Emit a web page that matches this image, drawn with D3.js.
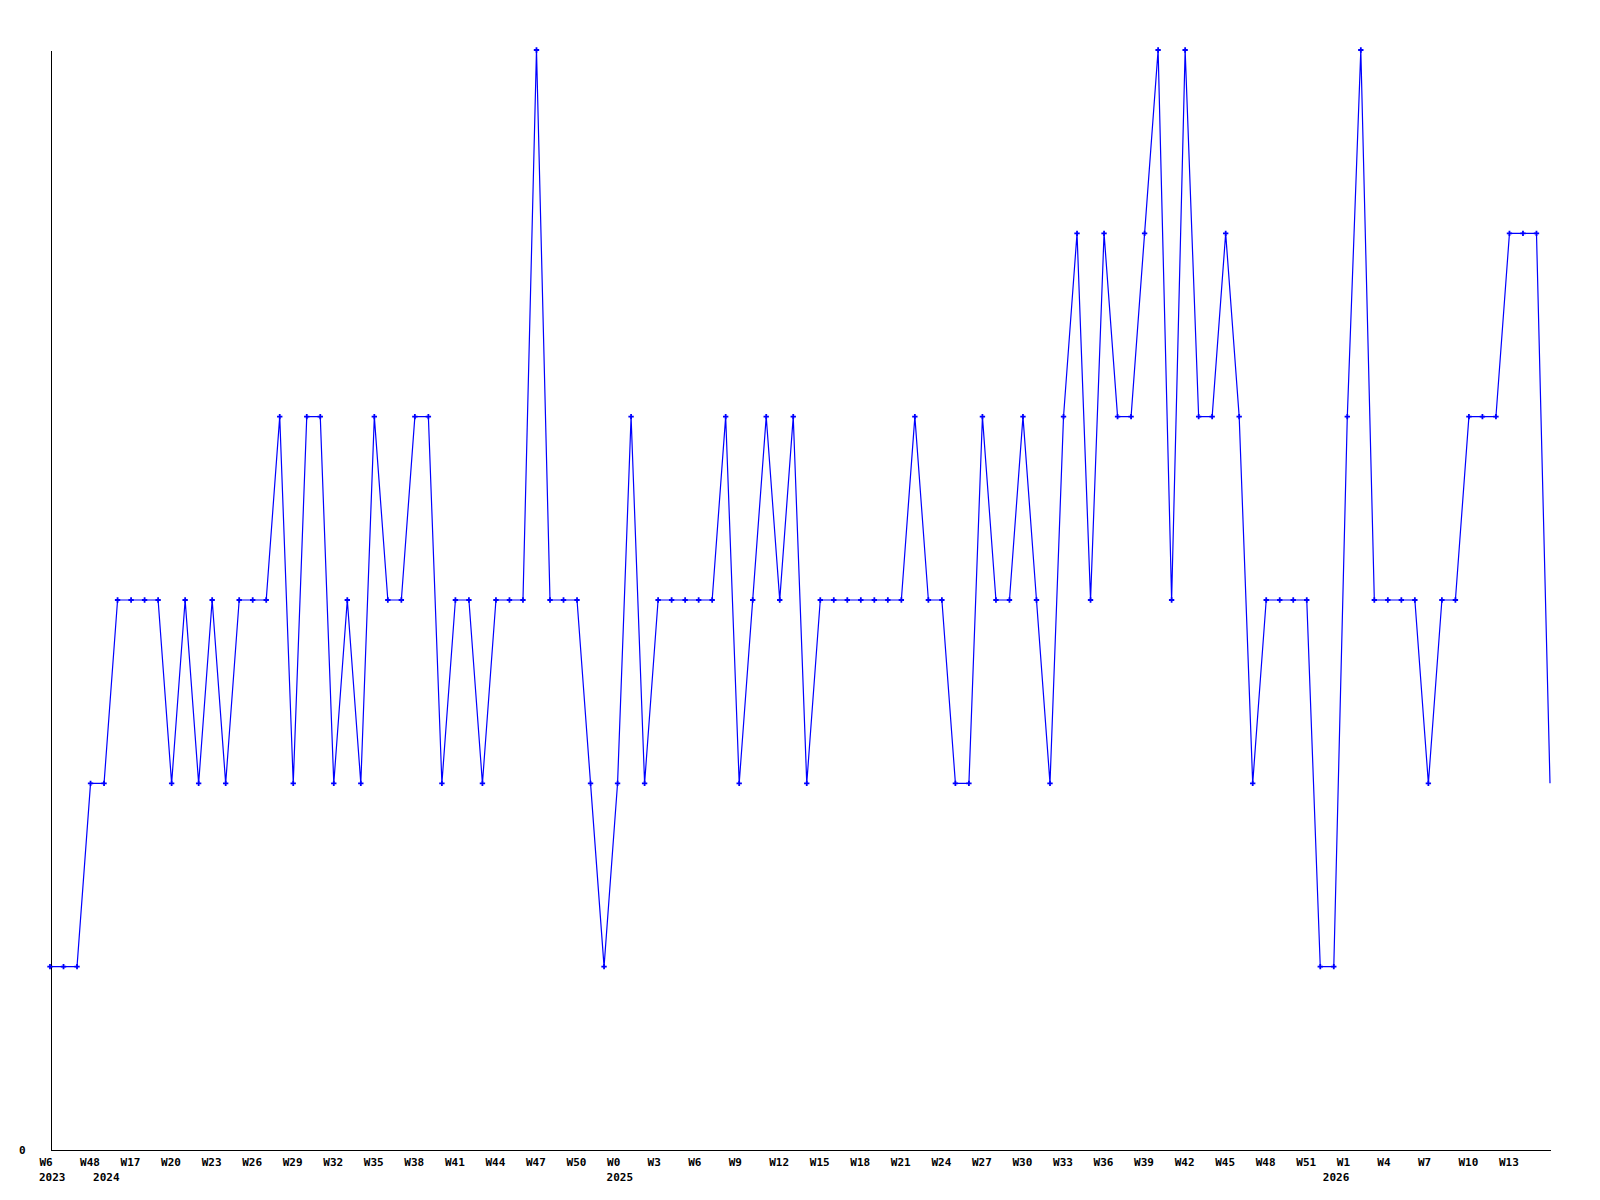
<!DOCTYPE html>
<html>
<head>
<meta charset="utf-8">
<script src="https://cdn.jsdelivr.net/npm/d3@7"></script>
<style>
  body { margin: 0; background: #fff; }
  svg text { font-family: "DejaVu Sans Mono", monospace; font-weight: bold; font-size: 11px; fill: #000; }
</style>
</head>
<body>
<div id="chart"></div>
<script>
// weekly values, one per point
var values = [
    1, 1, 1, 2, 2, 3, 3, 3, 3, 2,
    3, 2, 3, 2, 3, 3, 3, 4, 2, 4,
    4, 2, 3, 2, 4, 3, 3, 4, 4, 2,
    3, 3, 2, 3, 3, 3, 6, 3, 3, 3,
    2, 1, 2, 4, 2, 3, 3, 3, 3, 3,
    4, 2, 3, 4, 3, 4, 2, 3, 3, 3,
    3, 3, 3, 3, 4, 3, 3, 2, 2, 4,
    3, 3, 4, 3, 2, 4, 5, 3, 5, 4,
    4, 5, 6, 3, 6, 4, 4, 5, 4, 2,
    3, 3, 3, 3, 1, 1, 4, 6, 3, 3,
    3, 3, 2, 3, 3, 4, 4, 4, 5, 5,
    5, 2
];

// labels for every third point
var tickLabels = ["W6", "W48", "W17", "W20", "W23", "W26", "W29", "W32", "W35", "W38",
    "W41", "W44", "W47", "W50", "W0", "W3", "W6", "W9", "W12", "W15",
    "W18", "W21", "W24", "W27", "W30", "W33", "W36", "W39", "W42", "W45",
    "W48", "W51", "W1", "W4", "W7", "W10", "W13"];
var tickStep = 3;

// year labels and the point where each one sits
var yearLabels = ["2023", "2024", "2025", "2026"];
var yearIndex = [0, 4, 42, 95];

var yTicks = [0];

var margin = {top: 50, right: 50, bottom: 50, left: 50},
    width = 1600 - margin.left - margin.right,
    height = 1200 - margin.top - margin.bottom;

var x = d3.scaleLinear().domain([0, values.length - 1]).range([0, width]);
var y = d3.scaleLinear().domain([0, 6]).range([height, 0]);

var svg = d3.select("#chart").append("svg")
    .attr("width", 1600)
    .attr("height", 1200)
    .append("g")
    .attr("transform", "translate(" + margin.left + "," + margin.top + ")");

// x axis
var xAxis = svg.append("g")
    .attr("transform", "translate(0," + (height - 0.5) + ")")
    .call(d3.axisBottom(x)
        .tickValues(d3.range(tickLabels.length).map(function (i) { return i * tickStep; }))
        .tickFormat(function (d) { return tickLabels[d / tickStep]; })
        .tickSize(0)
        .tickSizeOuter(0));
xAxis.select(".domain").attr("stroke", "#000").attr("shape-rendering", "crispEdges");
xAxis.selectAll("text")
    .attr("text-anchor", "start")
    .attr("x", -11)
    .attr("y", 16.5)
    .attr("dy", null);

// year labels under the week labels
svg.selectAll(".year")
    .data(yearLabels)
    .enter().append("text")
    .attr("class", "year")
    .attr("x", function (d, i) { return x(yearIndex[i]) - 11; })
    .attr("y", height + 31)
    .text(function (d) { return d; });

// y axis
var yAxis = svg.append("g")
    .attr("transform", "translate(0.5,0)")
    .call(d3.axisLeft(y).tickValues(yTicks).tickFormat(d3.format("d"))
        .tickSize(0).tickSizeOuter(0).tickPadding(25));
yAxis.select(".domain").attr("stroke", "#000").attr("shape-rendering", "crispEdges");
yAxis.selectAll("text").attr("dy", "0.35em");

// the line
var valueline = d3.line()
    .x(function (d, i) { return x(i); })
    .y(function (d) { return y(d); });

svg.append("path")
    .datum(values)
    .attr("fill", "none")
    .attr("stroke", "#0000ff")
    .attr("stroke-width", 1.2)
    .attr("d", valueline);

// point markers (last point has none)
svg.selectAll(".dot")
    .data(values.slice(0, values.length - 1))
    .enter().append("path")
    .attr("class", "dot")
    .attr("fill", "#0000ff")
    .attr("transform", function (d, i) { return "translate(" + x(i) + "," + y(d) + ")"; })
    .attr("d", d3.symbol().type(d3.symbolCross).size(16));
</script>
</body>
</html>
